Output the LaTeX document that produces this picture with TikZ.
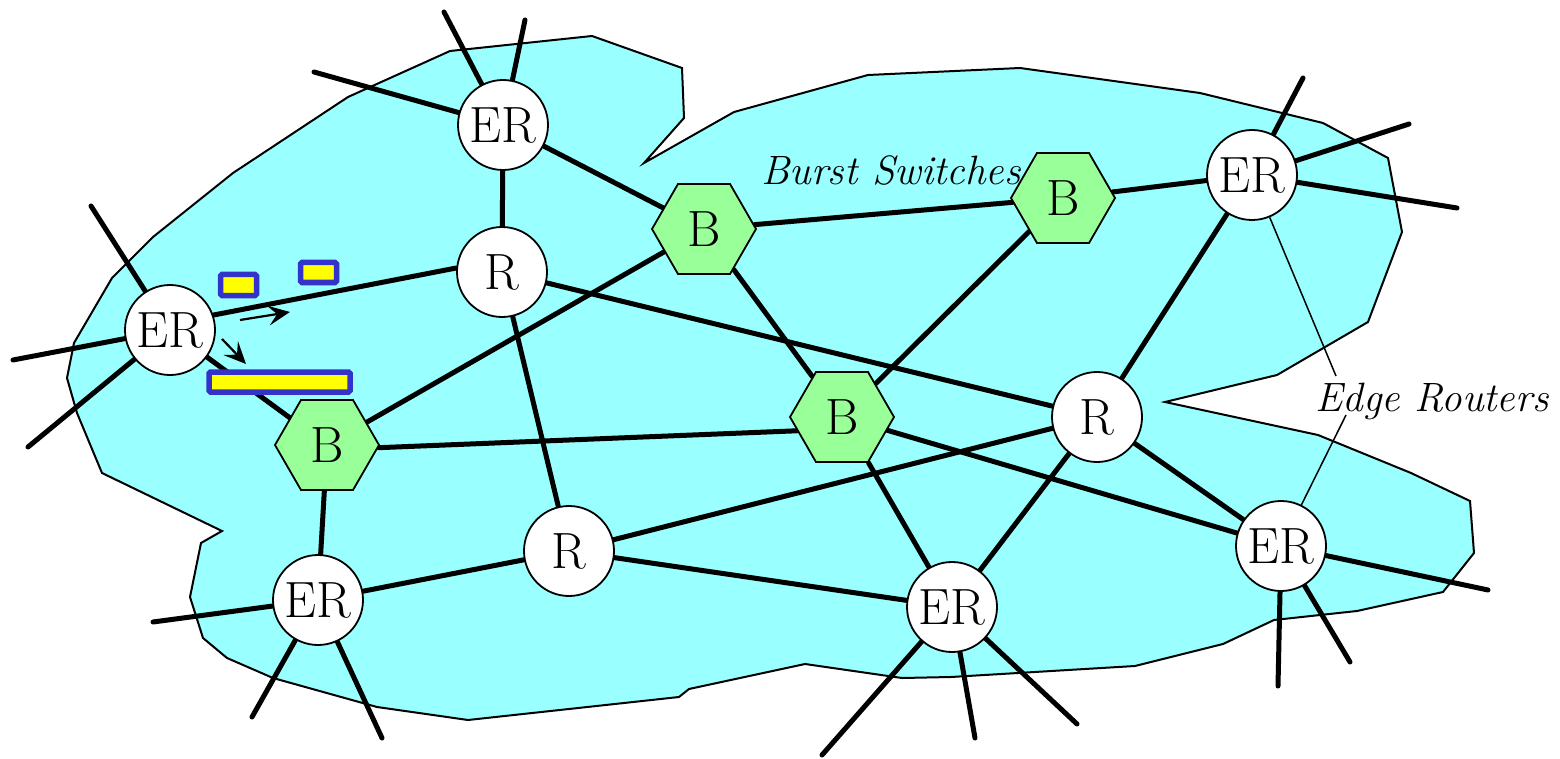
\documentclass[tikz,border=0pt]{standalone}
\usetikzlibrary{shapes.geometric,arrows.meta}
\pgfdeclarelayer{cloudlayer}
\pgfdeclarelayer{edgelayer}
\pgfsetlayers{cloudlayer,edgelayer,main}
\definecolor{cloudcyan}{RGB}{153,255,255}
\definecolor{hexgreen}{RGB}{153,255,153}
\definecolor{pktblue}{RGB}{51,51,204}
\definecolor{pktyellow}{RGB}{255,255,0}
\begin{document}
\begin{tikzpicture}[x=1pt,y=-1pt,
  router/.style={circle,draw,line width=1.8pt,fill=white,minimum size=90pt,inner sep=0pt,
    font=\fontsize{51}{51}\selectfont},
  burst/.style={regular polygon,regular polygon sides=6,draw,line width=1.8pt,fill=hexgreen,
    minimum size=104pt,inner sep=0pt,font=\fontsize{51}{51}\selectfont},
  link/.style={line width=5pt,line cap=round},
  leader/.style={line width=1.5pt},
  packet/.style={draw=pktblue,fill=pktyellow,line width=5.5pt,rounded corners=1.5pt},
  flow/.style={line width=2.2pt,-{Stealth[length=22pt,width=20pt,inset=9pt]}},
  lbl/.style={anchor=base,inner sep=0pt,font=\fontsize{41}{41}\selectfont\itshape},
  cloud/.style={fill=cloudcyan,draw=black,line width=2pt}
]
\useasboundingbox (0,0) rectangle (1560,759);

% nodes
\node[router] (ER1) at (170,330) {ER};
\node[router] (ER2) at (503,125) {ER};
\node[router] (R1)  at (502,272) {R};
\node[burst]  (B1)  at (704,229) {B};
\node[burst]  (B2)  at (1063,198) {B};
\node[router] (ER3) at (1252,175) {ER};
\node[burst]  (B3)  at (327,445) {B};
\node[burst]  (B4)  at (842,417) {B};
\node[router] (R2)  at (1097,417) {R};
\node[router] (R3)  at (569,551) {R};
\node[router] (ER4) at (318,600) {ER};
\node[router] (ER5) at (952,607) {ER};
\node[router] (ER6) at (1281,546) {ER};

\node[lbl] (lblBS) at (891,185) {Burst Switches};
\node[lbl] (lblER) at (1432,411) {Edge Routers};

% free ends of access links
\coordinate (a1) at (91,206);
\coordinate (a2) at (13,360);
\coordinate (a3) at (28,447);
\coordinate (b1) at (444,12);
\coordinate (b2) at (525,20);
\coordinate (b3) at (314,72);
\coordinate (c1) at (1303,78);
\coordinate (c2) at (1409,124);
\coordinate (c3) at (1457,208);
\coordinate (d1) at (153,622);
\coordinate (d2) at (252,717);
\coordinate (d3) at (382,738);
\coordinate (e1) at (822,755);
\coordinate (e2) at (975,738);
\coordinate (e3) at (1077,724);
\coordinate (f1) at (1488,590);
\coordinate (f2) at (1278,686);
\coordinate (f3) at (1350,662);
\coordinate (t1) at (1336,376);
\coordinate (t2) at (1346,415);

% leaders
\draw[leader] (ER3) -- (t1);
\draw[leader] (t2) -- (ER6);

% packets and flow arrows
\draw[packet] (220.5,274.5) rectangle (256.5,295.5);
\draw[packet] (300.5,262.5) rectangle (336.5,282.5);
\draw[packet] (209,372) rectangle (350,392);
\coordinate (p1s) at (240,320);
\coordinate (p1e) at (290,312);
\coordinate (p2s) at (222,339);
\coordinate (p2e) at (246,364);
\draw[flow] (p1s) -- (p1e);
\draw[flow] (p2s) -- (p2e);

\begin{pgfonlayer}{edgelayer}
  \draw[link] (ER1.19) -- (R1.175);
  \draw[link] (ER1) -- (B3);
  \draw[link] (ER2) -- (R1);
  \draw[link] (ER2) -- (B1);
  \draw[link] (R1) -- (R2);
  \draw[link] (R1) -- (R3);
  \draw[link] (B1) -- (B3);
  \draw[link] (B1) -- (B2);
  \draw[link] (B1) -- (B4);
  \draw[link] (B2) -- (ER3);
  \draw[link] (B2) -- (B4);
  \draw[link] (B3.-3) -- (B4.197);
  \draw[link] (B3) -- (ER4);
  \draw[link] (ER4) -- (R3);
  \draw[link] (R3) -- (R2);
  \draw[link] (R3) -- (ER5);
  \draw[link] (B4) -- (ER5);
  \draw[link] (B4) -- (ER6);
  \draw[link] (R2) -- (ER5);
  \draw[link] (R2) -- (ER6);
  \draw[link] (ER3) -- (R2);
  \foreach \s in {a1,a2,a3} \draw[link] (ER1) -- (\s);
  \foreach \s in {b1,b2,b3} \draw[link] (ER2) -- (\s);
  \foreach \s in {c1,c2,c3} \draw[link] (ER3) -- (\s);
  \foreach \s in {d1,d2,d3} \draw[link] (ER4) -- (\s);
  \foreach \s in {e1,e2,e3} \draw[link] (ER5) -- (\s);
  \foreach \s in {f1,f2,f3} \draw[link] (ER6) -- (\s);
\end{pgfonlayer}

\begin{pgfonlayer}{cloudlayer}
  \draw[cloud] (153,237) -- (233,173) -- (348,97) -- (450,51) -- (592,36) -- (682,68)
    -- (684,118) -- (644,163) -- (734,112) -- (868,75) -- (1020,68) -- (1200,93)
    -- (1323,123) -- (1388,158) -- (1402,232) -- (1368,322) -- (1277,375) -- (1165,402)
    -- (1318,435) -- (1411,473) -- (1470,501) -- (1474,553) -- (1443,592) -- (1357,611)
    -- (1274,620) -- (1223,644) -- (1135,666) -- (951,677) -- (902,678) -- (805,664)
    -- (689,689) -- (679,697) -- (468,720) -- (377,707) -- (273,678) -- (227,658)
    -- (203,638) -- (190,597) -- (201,543) -- (222,531) -- (102,473) -- (77,413)
    -- (67,378) -- (74,343) -- (112,278) -- cycle;
\end{pgfonlayer}
\end{tikzpicture}
\end{document}
